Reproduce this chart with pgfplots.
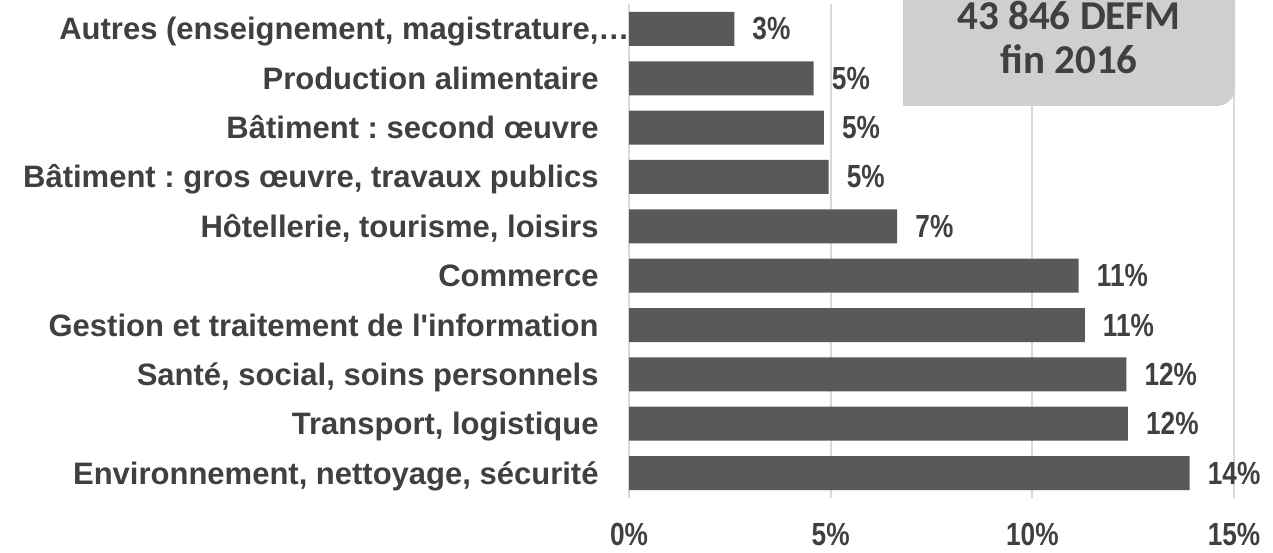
\documentclass[border=0pt]{standalone}
\usepackage{fontspec}
\setmainfont{Liberation Sans}
\newfontfamily\narrowfont{Liberation Sans}[FakeStretch=0.82]
\newfontfamily\calfont{Carlito}
\usepackage{pgfplots}
\pgfplotsset{compat=1.18}
\usepackage{pgfplotstable}
\definecolor{bargray}{HTML}{595959}
\definecolor{txtgray}{HTML}{404040}
\definecolor{boxgray}{HTML}{D0CECE}
\definecolor{gridgray}{HTML}{D9D9D9}

\pgfplotstableread{
pos val lab
0 13.90 14
1 12.37 12
2 12.33 12
3 11.30 11
4 11.15 11
5 6.65 7
6 4.95 5
7 4.83 5
8 4.58 5
9 2.61 3
}\data

\begin{document}
\frenchspacing
\begin{tikzpicture}
\begin{axis}[
  at={(629pt,54.3pt)}, anchor=south west,
  scale only axis, width=605pt, height=493.4pt,
  xbar, bar width=34pt,
  xmin=0, xmax=15, ymin=-0.5, ymax=9.5,
  axis line style={draw=none},
  major tick style={draw=none},
  xmajorgrids, grid style={gridgray, line width=2pt},
  xtick={0,5,10,15},
  xticklabels={0\%,5\%,10\%,15\%},
  xticklabel style={anchor=base, inner sep=0pt, yshift=-48pt,
    font=\narrowfont\bfseries\fontsize{32}{32}\selectfont, text=txtgray},
  ytick={0,...,9},
  yticklabels={
    {Environnement, nettoyage, sécurité},
    {Transport, logistique},
    {Santé, social, soins personnels},
    {Gestion et traitement de l\textquotesingle information},
    {Commerce},
    {Hôtellerie, tourisme, loisirs},
    {Bâtiment : gros œuvre, travaux publics},
    {Bâtiment : second œuvre},
    {Production alimentaire},
    {Autres (enseignement, magistrature,\rlap{…}}},
  yticklabel style={anchor=base east, inner sep=0pt, xshift=-26pt, yshift=-11pt,
    font=\bfseries\fontsize{31}{31}\selectfont, text=txtgray},
  point meta=explicit symbolic,
  nodes near coords={\pgfplotspointmeta\%},
  every node near coord/.append style={anchor=west, inner sep=0pt, xshift=18pt,
    font=\narrowfont\bfseries\fontsize{32}{32}\selectfont, text=txtgray},
]
\addplot[fill=bargray, draw=none] table[x=val, y=pos, meta=lab] {\data};
\end{axis}
\fill[boxgray] (903pt,552pt) -- (903pt,446pt) -- (1217pt,446pt)
  arc[start angle=-90, end angle=0, radius=18pt] -- (1235pt,552pt) -- cycle;
\node[font=\calfont\bfseries\fontsize{41}{46}\selectfont, text=txtgray, anchor=base, inner sep=0pt]
  at (1069pt,522.5pt) {43 846 DEFM};
\node[font=\calfont\bfseries\fontsize{41}{46}\selectfont, text=txtgray, anchor=base, inner sep=0pt]
  at (1069pt,478pt) {fin 2016};
\pgfresetboundingbox
\path[use as bounding box] (0,0) rectangle (1273pt,552pt);
\end{tikzpicture}
\end{document}
